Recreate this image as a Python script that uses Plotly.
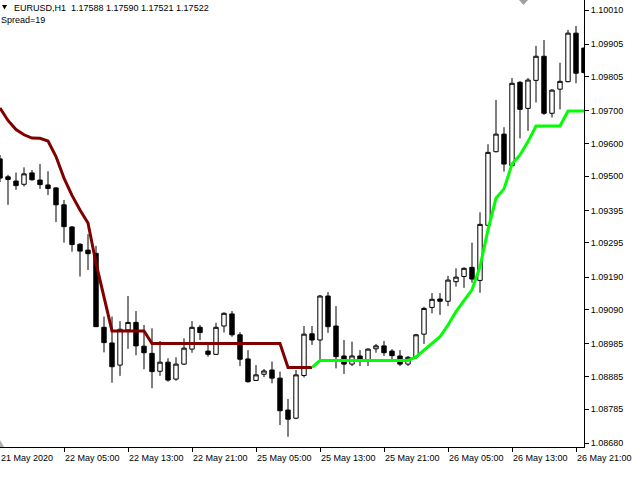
import plotly.graph_objects as go

# ---- data ----
bars = list(range(74))

opens = [1.09553, 1.09498, 1.09485, 1.09475, 1.09510, 1.09488, 1.09473, 1.09464, 1.09412, 1.09344,
         1.09291, 1.09273, 1.09263, 1.09036, 1.08988, 1.08920, 1.09028, 1.09051, 1.08978, 1.08956,
         1.08901, 1.08929, 1.08877, 1.08923, 1.08969, 1.09036, 1.08963, 1.08953, 1.09040, 1.09077,
         1.09013, 1.08939, 1.08873, 1.08892, 1.08905, 1.08880, 1.08782, 1.08757, 1.08888, 1.09016,
         1.08997, 1.09132, 1.09040, 1.08948, 1.08923, 1.08948, 1.08936, 1.08970, 1.08979, 1.08963,
         1.08948, 1.08923, 1.08945, 1.09015, 1.09097, 1.09123, 1.09116, 1.09176, 1.09192, 1.09220,
         1.09180, 1.09349, 1.09575, 1.09629, 1.09532, 1.09788, 1.09708, 1.09794, 1.09868, 1.09693,
         1.09767, 1.09790, 1.09939, 1.09893]
highs = [1.09565, 1.09504, 1.09511, 1.09527, 1.09519, 1.09537, 1.09515, 1.09466, 1.09427, 1.09347,
         1.09294, 1.09322, 1.09286, 1.09069, 1.09069, 1.09055, 1.09132, 1.09086, 1.09043, 1.09033,
         1.08994, 1.08941, 1.08944, 1.09002, 1.09055, 1.09043, 1.08982, 1.09050, 1.09082, 1.09086,
         1.09021, 1.08966, 1.08920, 1.08908, 1.08931, 1.08900, 1.08816, 1.08905, 1.09040, 1.09040,
         1.09135, 1.09144, 1.09101, 1.08997, 1.08992, 1.08966, 1.08972, 1.08985, 1.08994, 1.08969,
         1.08966, 1.08948, 1.09016, 1.09099, 1.09141, 1.09141, 1.09194, 1.09217, 1.09220, 1.09296,
         1.09389, 1.09598, 1.09734, 1.09650, 1.09801, 1.09792, 1.09801, 1.09900, 1.09918, 1.09767,
         1.09848, 1.09949, 1.09961, 1.09895]
lows = [1.09482, 1.09412, 1.09458, 1.09468, 1.09486, 1.09461, 1.09442, 1.09359, 1.09296, 1.09268,
        1.09192, 1.09212, 1.09037, 1.08959, 1.08866, 1.08887, 1.08970, 1.08950, 1.08907, 1.08849,
        1.08887, 1.08869, 1.08872, 1.08920, 1.08958, 1.08997, 1.08946, 1.08951, 1.09020, 1.09007,
        1.08917, 1.08866, 1.08871, 1.08883, 1.08864, 1.08736, 1.08700, 1.08754, 1.08882, 1.08982,
        1.08933, 1.09019, 1.08910, 1.08893, 1.08917, 1.08917, 1.08917, 1.08958, 1.08948, 1.08938,
        1.08917, 1.08917, 1.08939, 1.08985, 1.09079, 1.09074, 1.09101, 1.09161, 1.09157, 1.09173,
        1.09142, 1.09347, 1.09573, 1.09514, 1.09531, 1.09616, 1.09639, 1.09726, 1.09688, 1.09680,
        1.09705, 1.09788, 1.09785, 1.09815]
closes = [1.09494, 1.09490, 1.09471, 1.09507, 1.09489, 1.09474, 1.09462, 1.09412, 1.09345, 1.09290,
          1.09270, 1.09262, 1.09038, 1.08989, 1.08915, 1.09030, 1.09051, 1.08979, 1.08958, 1.08900,
          1.08929, 1.08874, 1.08923, 1.08972, 1.09036, 1.09020, 1.08953, 1.09036, 1.09079, 1.09013,
          1.08938, 1.08869, 1.08890, 1.08902, 1.08880, 1.08780, 1.08754, 1.08890, 1.09015, 1.08997,
          1.09132, 1.09038, 1.08946, 1.08923, 1.08948, 1.08936, 1.08969, 1.08979, 1.08958, 1.08949,
          1.08923, 1.08944, 1.09013, 1.09094, 1.09122, 1.09116, 1.09181, 1.09190, 1.09217, 1.09184,
          1.09352, 1.09573, 1.09629, 1.09537, 1.09785, 1.09705, 1.09795, 1.09868, 1.09693, 1.09764,
          1.09791, 1.09939, 1.09816, 1.09818]

# trailing line: down-trend part (bars 0..39) and up-trend part (bars 39..73)
red_bars = list(range(0, 40))
red_line = [1.09709, 1.09671, 1.09643, 1.09627, 1.09617, 1.09616, 1.09608, 1.09560, 1.09494, 1.09441,
            1.09396, 1.09356, 1.09233, 1.09130, 1.09025, 1.09025, 1.09025, 1.09025, 1.09025, 1.08986,
            1.08986, 1.08986, 1.08986, 1.08986, 1.08986, 1.08986, 1.08986, 1.08986, 1.08986, 1.08986,
            1.08986, 1.08986, 1.08986, 1.08986, 1.08986, 1.08986, 1.08913, 1.08913, 1.08913, 1.08913]
green_bars = list(range(39, 74))
green_line = [1.08913, 1.08934, 1.08934, 1.08934, 1.08934, 1.08934, 1.08934, 1.08934, 1.08934, 1.08934,
              1.08934, 1.08934, 1.08934, 1.08945, 1.08966, 1.08987, 1.09007, 1.09043, 1.09084, 1.09118,
              1.09151, 1.09222, 1.09335, 1.09432, 1.09461, 1.09537, 1.09565, 1.09606, 1.09654, 1.09654,
              1.09654, 1.09654, 1.09700, 1.09700, 1.09700]

price_labels = ["1.10010", "1.09905", "1.09805", "1.09700", "1.09600", "1.09500", "1.09395",
                "1.09295", "1.09190", "1.09090", "1.08985", "1.08885", "1.08785", "1.08680"]
time_ticks = [0, 8, 16, 24, 32, 40, 48, 56, 64, 72]
time_labels = ["21 May 2020", "22 May 05:00", "22 May 13:00", "22 May 21:00", "25 May 05:00",
               "25 May 13:00", "25 May 21:00", "26 May 05:00", "26 May 13:00", "26 May 21:00"]

FONT = "Liberation Sans, Arial, sans-serif"

fig = go.Figure()
fig.add_trace(go.Candlestick(
    x=bars, open=opens, high=highs, low=lows, close=closes,
    increasing=dict(line=dict(color="black", width=1), fillcolor="white"),
    decreasing=dict(line=dict(color="black", width=1), fillcolor="black"),
    whiskerwidth=0, showlegend=False, hoverinfo="skip"))
fig.add_trace(go.Scatter(x=red_bars, y=red_line, mode="lines",
                         line=dict(color="#800000", width=3), showlegend=False, hoverinfo="skip"))
fig.add_trace(go.Scatter(x=green_bars, y=green_line, mode="lines",
                         line=dict(color="#00FF00", width=3), showlegend=False, hoverinfo="skip"))

annotations = []
for pos, txt in zip(time_ticks, time_labels):
    annotations.append(dict(x=pos, y=0, xref="x", yref="paper", text=txt, showarrow=False,
                            xanchor="left", yanchor="top", xshift=-1, yshift=-4,
                            font=dict(family=FONT, size=9, color="black")))
annotations.append(dict(x=0, y=1, xref="paper", yref="paper",
                        text="EURUSD,H1\u00a0\u00a01.17588 1.17590 1.17521 1.17522",
                        showarrow=False, xanchor="left", yanchor="top", xshift=12, yshift=-1,
                        font=dict(family=FONT, size=9, color="black")))
annotations.append(dict(x=0, y=1, xref="paper", yref="paper", text="Spread=19",
                        showarrow=False, xanchor="left", yanchor="top", xshift=-1, yshift=-13,
                        font=dict(family=FONT, size=9, color="black")))

W_PLOT, H_PLOT = 584.0, 447.0
shapes = [
    # small black triangle before the symbol name
    dict(type="path", xref="paper", yref="paper",
         path=f"M {2/W_PLOT} {1-5/H_PLOT} L {7/W_PLOT} {1-5/H_PLOT} L {4.5/W_PLOT} {1-9.5/H_PLOT} Z",
         fillcolor="black", line=dict(width=0)),
    # grey shift marker at top
    dict(type="path", xref="paper", yref="paper",
         path=f"M {519/W_PLOT} 1 L {528/W_PLOT} 1 L {523.5/W_PLOT} {1-5/H_PLOT} Z",
         fillcolor="#a0a0a0", line=dict(width=0)),
    # grey marker bottom-left
    dict(type="path", xref="paper", yref="paper",
         path=f"M 0 {7/H_PLOT} L 0 0 L {4/W_PLOT} 0 Z",
         fillcolor="#b0b0b0", line=dict(width=0)),
]

fig.update_layout(
    width=640, height=480,
    margin=dict(l=0, r=56, t=0, b=33),
    paper_bgcolor="white", plot_bgcolor="white",
    boxgap=0.45, boxgroupgap=0,
    showlegend=False,
    annotations=annotations, shapes=shapes,
    xaxis=dict(range=[0, 73], rangeslider=dict(visible=False), showgrid=False, zeroline=False,
               showline=True, linecolor="black", linewidth=1, ticks="outside", ticklen=4,
               tickcolor="black", tickvals=time_ticks[1:], showticklabels=False),
    yaxis=dict(side="right", range=[1.086686, 1.100407], showgrid=False, zeroline=False,
               showline=True, linecolor="black", linewidth=1, ticks="outside", ticklen=4,
               tickcolor="black", tickvals=[float(p) for p in price_labels], ticktext=price_labels,
               tickfont=dict(family=FONT, size=9, color="black")),
)

fig.write_html("out.html", config={"displayModeBar": False},
               post_script="document.body.style.margin='0';document.body.style.overflow='hidden';")
